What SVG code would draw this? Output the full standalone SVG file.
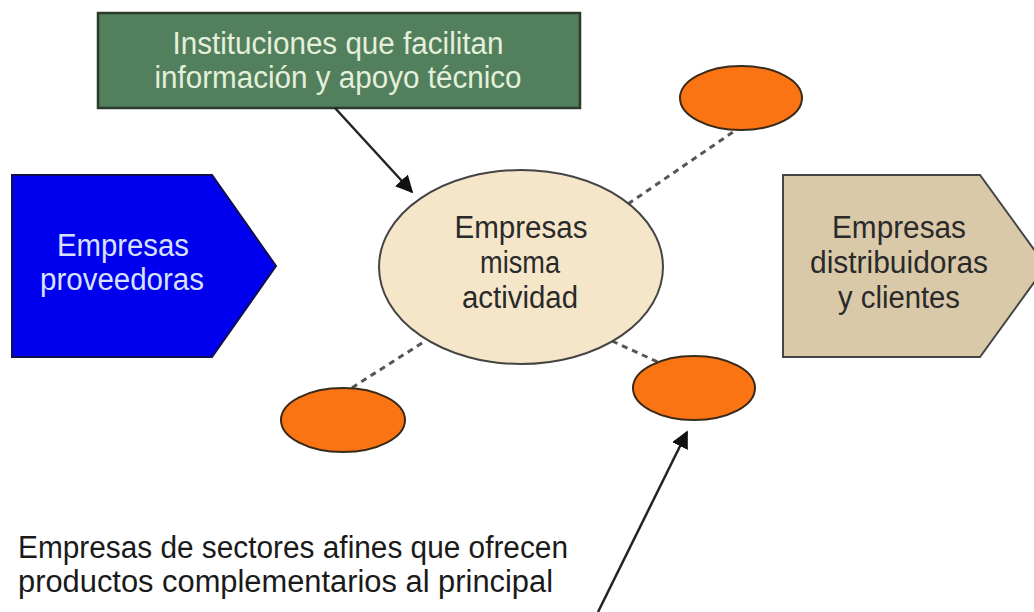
<svg xmlns="http://www.w3.org/2000/svg" width="1034" height="612" viewBox="0 0 1034 612">
<defs>
<style>
text{font-family:"Liberation Sans",Arial,sans-serif;font-size:31px;text-anchor:middle}
.lt{fill:#e4efdc}
.wt{fill:#d8e0ff}
.dk{fill:#2a2a2a}
.orange{fill:#fa7414;stroke:#3a2a1a;stroke-width:2}
.dash{stroke:#555;stroke-width:3;stroke-dasharray:6,5;fill:none}
.arr{stroke:#222;stroke-width:2.5;fill:none;marker-end:url(#ah)}
</style>
<marker id="ah" viewBox="0 0 10 10" refX="9" refY="5" markerWidth="7" markerHeight="7" orient="auto" markerUnits="strokeWidth">
<path d="M0,0 L10,5 L0,10 z" fill="#111"/>
</marker>
</defs>
<rect width="1034" height="612" fill="#fff"/>
<g id="instituciones">
<rect x="98" y="13" width="482" height="95" fill="#527f5c" stroke="#2c3a2e" stroke-width="2.5"/>
<text class="lt" x="338" y="54" textLength="331" lengthAdjust="spacingAndGlyphs">Instituciones que facilitan</text>
<text class="lt" x="338" y="88" textLength="367" lengthAdjust="spacingAndGlyphs">información y apoyo técnico</text>
</g>
<g id="proveedoras">
<polygon points="12,175 212,175 276,266 212,357 12,357" fill="#0000ee" stroke="#101050" stroke-width="2"/>
<text class="wt" x="123" y="256" textLength="132" lengthAdjust="spacingAndGlyphs">Empresas</text>
<text class="wt" x="122" y="290" textLength="164" lengthAdjust="spacingAndGlyphs">proveedoras</text>
</g>
<g id="distribuidoras">
<polygon points="783,175 980,175 1046,266 980,357 783,357" fill="#d9c9a9" stroke="#444" stroke-width="2"/>
<text class="dk" x="899" y="238" textLength="134" lengthAdjust="spacingAndGlyphs">Empresas</text>
<text class="dk" x="899" y="273" textLength="178" lengthAdjust="spacingAndGlyphs">distribuidoras</text>
<text class="dk" x="899" y="308" textLength="122" lengthAdjust="spacingAndGlyphs">y clientes</text>
</g>
<g id="connectors">
<line class="dash" x1="628" y1="204" x2="736" y2="130"/>
<line class="dash" x1="422" y1="343" x2="350" y2="389"/>
<line class="dash" x1="612" y1="341" x2="660" y2="363"/>
<line class="arr" x1="335" y1="108" x2="412" y2="192"/>
<line class="arr" x1="598" y1="612" x2="687" y2="432"/>
</g>
<g id="misma-actividad">
<ellipse cx="521" cy="267" rx="142" ry="97" fill="#f5e6c9" stroke="#444" stroke-width="2"/>
<text class="dk" x="521" y="238" textLength="133" lengthAdjust="spacingAndGlyphs">Empresas</text>
<text class="dk" x="520" y="273" textLength="80" lengthAdjust="spacingAndGlyphs">misma</text>
<text class="dk" x="520" y="308" textLength="116" lengthAdjust="spacingAndGlyphs">actividad</text>
</g>
<g id="afin-top">
<ellipse class="orange" cx="741" cy="98" rx="61" ry="32"/>
</g>
<g id="afin-left">
<ellipse class="orange" cx="343" cy="420" rx="62" ry="32"/>
</g>
<g id="afin-right">
<ellipse class="orange" cx="694" cy="388" rx="61" ry="32"/>
</g>
<g id="afines-label">
<text class="dk" x="18" y="558" style="text-anchor:start;fill:#1a1a1a" textLength="550" lengthAdjust="spacingAndGlyphs">Empresas de sectores afines que ofrecen</text>
<text class="dk" x="18" y="592" style="text-anchor:start;fill:#1a1a1a" textLength="535" lengthAdjust="spacingAndGlyphs">productos complementarios al principal</text>
</g>
</svg>
